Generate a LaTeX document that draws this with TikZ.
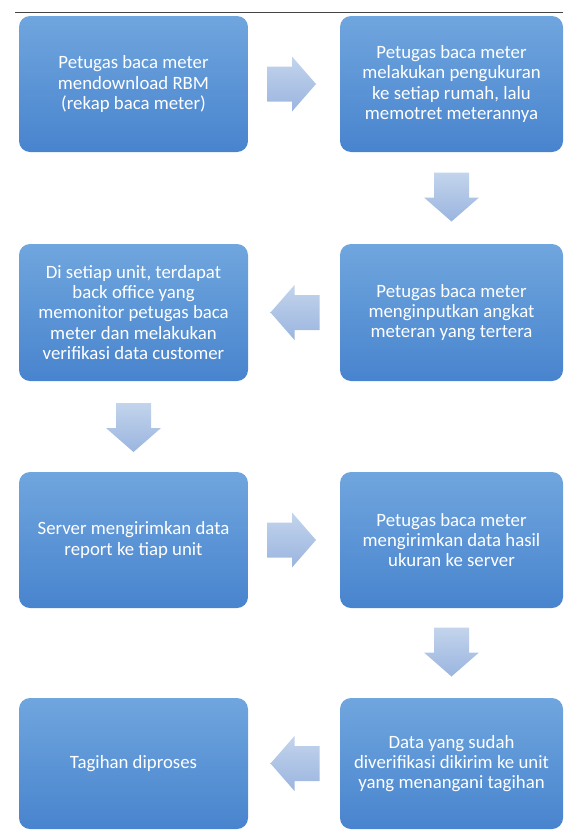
\documentclass[tikz,border=0pt]{standalone}
\usepackage{fontspec}
\setmainfont{Carlito}
\usetikzlibrary{calc}
\definecolor{boxtop}{HTML}{70A6DE}
\definecolor{boxbot}{HTML}{4884CE}
\definecolor{arrtop}{HTML}{C3D4EC}
\definecolor{arrbot}{HTML}{9AB5DF}
\definecolor{rulecol}{HTML}{444444}
\tikzset{
  box/.style={rectangle, rounded corners=11pt, top color=boxtop, bottom color=boxbot,
    draw=none, text=white, align=center, inner sep=4pt,
    font=\fontsize{18.8}{20.3}\selectfont},
  arrowfill/.style={top color=arrtop, bottom color=arrbot, draw=none},
  arrowR/.pic={\path[arrowfill] (-24.5,-17.5) -- (0.5,-17.5) -- (0.5,-27.5) -- (24.5,0) -- (0.5,27.5) -- (0.5,17.5) -- (-24.5,17.5) -- cycle;},
  arrowL/.pic={\path[arrowfill] (24.5,-17.5) -- (-0.5,-17.5) -- (-0.5,-27.5) -- (-24.5,0) -- (-0.5,27.5) -- (-0.5,17.5) -- (24.5,17.5) -- cycle;},
  arrowD/.pic={\path[arrowfill] (-17.5,24.5) -- (17.5,24.5) -- (17.5,-0.5) -- (27.5,-0.5) -- (0,-24.5) -- (-27.5,-0.5) -- (-17.5,-0.5) -- cycle;}
}
\begin{document}
\begin{tikzpicture}[x=1pt,y=1pt]
\useasboundingbox (0,0) rectangle (564,-830);
\draw[rulecol, line width=0.8pt] (15,-12) coordinate (ls) -- (563,-12) coordinate (le);

\node[box, minimum width=229pt, minimum height=136pt] (b1) at (133.5,-84)
  {Petugas baca meter\\mendownload RBM\\(rekap baca meter)};
\node[box, minimum width=223pt, minimum height=136pt] (b2) at (451.5,-84)
  {Petugas baca meter\\melakukan pengukuran\\ke setiap rumah, lalu\\memotret meterannya};
\node[box, minimum width=223pt, minimum height=137pt] (b3) at (451.5,-312.5)
  {Petugas baca meter\\menginputkan angkat\\meteran yang tertera};
\node[box, minimum width=229pt, minimum height=137pt] (b4) at (133.5,-312.5)
  {Di setiap unit, terdapat\\back office yang\\memonitor petugas baca\\meter dan melakukan\\verifikasi data customer};
\node[box, minimum width=229pt, minimum height=136pt] (b5) at (133.5,-540)
  {Server mengirimkan data\\report ke tiap unit};
\node[box, minimum width=223pt, minimum height=136pt] (b6) at (451.5,-540)
  {Petugas baca meter\\mengirimkan data hasil\\ukuran ke server};
\node[box, minimum width=223pt, minimum height=131pt] (b7) at (451.5,-763.5)
  {Data yang sudah\\diverifikasi dikirim ke unit\\yang menangani tagihan};
\node[box, minimum width=229pt, minimum height=131pt] (b8) at (133.5,-763.5)
  {Tagihan diproses};

\pic at ($(b1.east)!0.5!(b2.west)+(-2.5,0)$) {arrowR};
\pic at ($(b2.south)!0.5!(b3.north)+(0,1)$) {arrowD};
\pic at ($(b3.west)!0.5!(b4.east)+(1,0)$) {arrowL};
\pic at ($(b4.south)!0.5!(b5.north)+(0,-1)$) {arrowD};
\pic at ($(b5.east)!0.5!(b6.west)+(-2.5,0)$) {arrowR};
\pic at ($(b6.south)!0.5!(b7.north)+(0,1)$) {arrowD};
\pic at ($(b7.west)!0.5!(b8.east)+(1,0)$) {arrowL};
\end{tikzpicture}
\end{document}
